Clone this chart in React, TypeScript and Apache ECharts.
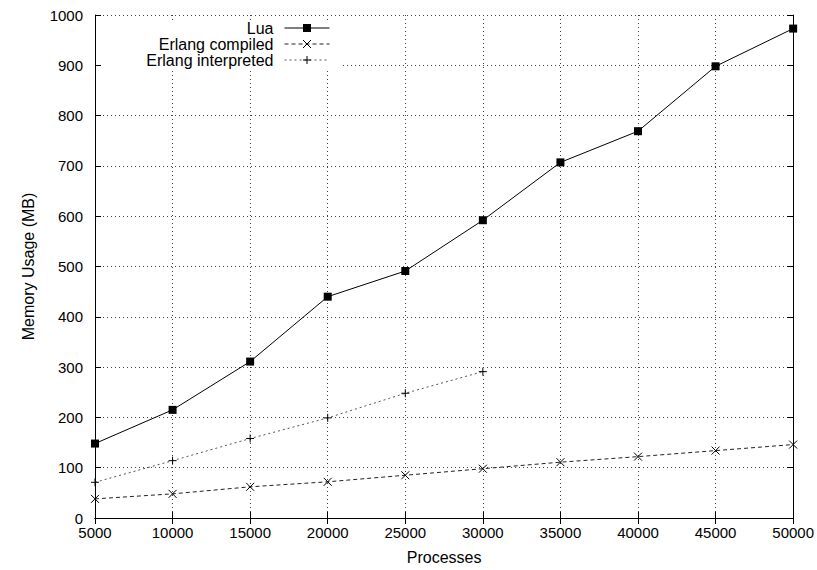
import React, { useEffect, useRef } from "react";
import * as echarts from "echarts";

const processes = [5000, 10000, 15000, 20000, 25000, 30000, 35000, 40000, 45000, 50000];
const luaMem = [148, 215, 311, 440, 491, 592, 707, 769, 898, 973];
const erlangCompiledMem = [38, 48, 62, 72, 85, 98, 111, 122, 134, 146];
const erlangInterpretedMem = [71, 114, 158, 199, 248, 291];

const seriesNames = ["Lua", "Erlang compiled", "Erlang interpreted"];

const CROSS = "path://M0,0L10,10M10,0L0,10";
const PLUS = "path://M5,0L5,10M0,5L10,5";

export default function App() {
  const ref = useRef<HTMLDivElement>(null);
  useEffect(() => {
    if (!ref.current) return;
    const chart = echarts.init(ref.current, null, { renderer: "svg" });
    const font = "'Liberation Sans', Arial, sans-serif";
    const fs = 15;
    const fsBig = 16;
    const pairs = (ys: number[]) => ys.map((y, i) => [processes[i], y]);
    const gridLine = { show: true, lineStyle: { color: "#444", type: [1, 3] as any, width: 1 } };
    const legendCommon = {
      orient: "horizontal",
      align: "right",
      itemWidth: 45,
      itemHeight: 10,
      itemGap: 0,
      padding: 0,
      lineStyle: { width: 1 },
      itemStyle: { borderWidth: 1 },
      textStyle: { fontFamily: font, fontSize: fsBig, color: "#000", padding: [0, 6, 0, 0] },
      selectedMode: false,
    };
    chart.setOption({
      animation: false,
      backgroundColor: "#fff",
      textStyle: { fontFamily: font },
      grid: { left: 95, right: 23, top: 15, bottom: 52, containLabel: false },
      graphic: [
        {
          type: "rect",
          z: 1,
          shape: { x: 102, y: 22, width: 238, height: 46 },
          style: { fill: "#fff" },
          silent: true,
        },
      ],
      legend: [
        { ...legendCommon, data: ["Lua"], right: 817 - 330, top: 20 },
        { ...legendCommon, data: ["Erlang compiled"], right: 817 - 330, top: 36 },
        { ...legendCommon, data: ["Erlang interpreted"], right: 817 - 330, top: 52 },
      ],
      xAxis: [
        {
          type: "value",
          min: 5000,
          max: 50000,
          interval: 5000,
          name: "Processes",
          nameLocation: "middle",
          nameGap: 31,
          nameTextStyle: { fontFamily: font, fontSize: fsBig, color: "#000" },
          axisLine: { show: true, lineStyle: { color: "#000", width: 1 } },
          axisTick: { show: true, inside: true, length: 6, lineStyle: { color: "#000" } },
          axisLabel: { fontFamily: font, fontSize: fs, color: "#000", margin: 7, formatter: (v: number) => String(v) },
          splitLine: gridLine,
        },
        {
          type: "value",
          position: "top",
          min: 5000,
          max: 50000,
          interval: 5000,
          axisLine: { show: true, lineStyle: { color: "#000", width: 1 } },
          axisTick: { show: true, inside: true, length: 6, lineStyle: { color: "#000" } },
          axisLabel: { show: false },
          splitLine: { show: false },
        },
      ],
      yAxis: [
        {
          type: "value",
          min: 0,
          max: 1000,
          interval: 100,
          name: "Memory Usage (MB)",
          nameLocation: "middle",
          nameGap: 59,
          nameRotate: 90,
          nameTextStyle: { fontFamily: font, fontSize: fsBig, color: "#000" },
          axisLine: { show: true, lineStyle: { color: "#000", width: 1 } },
          axisTick: { show: true, inside: true, length: 6, lineStyle: { color: "#000" } },
          axisLabel: { fontFamily: font, fontSize: fs, color: "#000", margin: 12, formatter: (v: number) => String(v) },
          splitLine: gridLine,
        },
        {
          type: "value",
          position: "right",
          min: 0,
          max: 1000,
          interval: 100,
          axisLine: { show: true, lineStyle: { color: "#000", width: 1 } },
          axisTick: { show: true, inside: true, length: 6, lineStyle: { color: "#000" } },
          axisLabel: { show: false },
          splitLine: { show: false },
        },
      ],
      series: [
        {
          name: seriesNames[0],
          type: "line",
          data: pairs(luaMem),
          symbol: "rect",
          symbolSize: 8,
          itemStyle: { color: "#000" },
          lineStyle: { color: "#000", width: 1 },
          z: 3,
        },
        {
          name: seriesNames[1],
          type: "line",
          data: pairs(erlangCompiledMem),
          symbol: CROSS,
          symbolSize: 8,
          symbolKeepAspect: true,
          itemStyle: { color: "none", borderColor: "#000", borderWidth: 1 },
          lineStyle: { color: "#222", width: 1, type: [4, 3] },
        },
        {
          name: seriesNames[2],
          type: "line",
          data: pairs(erlangInterpretedMem),
          symbol: PLUS,
          symbolSize: 8,
          symbolKeepAspect: true,
          itemStyle: { color: "none", borderColor: "#000", borderWidth: 1 },
          lineStyle: { color: "#555", width: 1, type: [2, 3] },
        },
      ],
    });
    return () => chart.dispose();
  }, []);
  return <div ref={ref} style={{ width: 817, height: 570, position: "absolute", left: 0, top: 0 }} />;
}
